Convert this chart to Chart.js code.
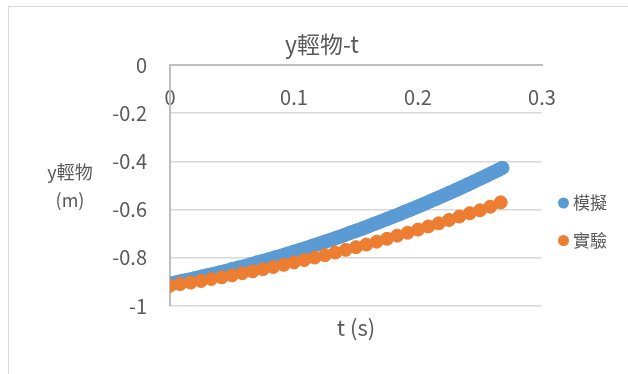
<!DOCTYPE html>
<html>
<head>
<meta charset="utf-8">
<script src="https://cdn.jsdelivr.net/npm/chart.js@4.4.1/dist/chart.umd.min.js"></script>
<style>
  html, body { margin: 0; padding: 0; background: #ffffff; }
  #wrap { position: relative; width: 628px; height: 374px; }
  canvas { display: block; }
</style>
</head>
<body>
<div id="wrap"><canvas id="chart" width="628" height="374"></canvas></div>
<script>
// Vertical position of the light mass over time
const chartTitle = 'y輕物-t';
const xAxisTitle = 't (s)';
const yAxisTitle = ['y輕物', '(m)'];
const seriesNames = ['模擬', '實驗'];

// Simulation (模擬)
const simTime = [0, 0.005, 0.01, 0.015, 0.02, 0.025, 0.03, 0.035, 0.04, 0.045,
  0.05, 0.055, 0.06, 0.065, 0.07, 0.075, 0.08, 0.085, 0.09, 0.095,
  0.1, 0.105, 0.11, 0.115, 0.12, 0.125, 0.13, 0.135, 0.14, 0.145,
  0.15, 0.155, 0.16, 0.165, 0.17, 0.175, 0.18, 0.185, 0.19, 0.195,
  0.2, 0.205, 0.21, 0.215, 0.22, 0.225, 0.23, 0.235, 0.24, 0.245,
  0.25, 0.255, 0.26, 0.265, 0.268];
const simY = [-0.907, -0.902, -0.896, -0.891, -0.885, -0.879, -0.873, -0.867, -0.861, -0.855,
  -0.848, -0.841, -0.835, -0.828, -0.820, -0.813, -0.806, -0.798, -0.791, -0.783,
  -0.775, -0.767, -0.759, -0.750, -0.742, -0.733, -0.725, -0.716, -0.707, -0.697,
  -0.688, -0.679, -0.669, -0.659, -0.649, -0.639, -0.629, -0.619, -0.608, -0.598,
  -0.587, -0.576, -0.565, -0.554, -0.543, -0.531, -0.520, -0.508, -0.496, -0.484,
  -0.472, -0.460, -0.447, -0.435, -0.427];

// Experiment (實驗), one frame every 1/120 s
const expTime = [0, 0.0083, 0.0167, 0.025, 0.0333, 0.0417, 0.05, 0.0583, 0.0667, 0.075,
  0.0833, 0.0917, 0.1, 0.1083, 0.1167, 0.125, 0.1333, 0.1417, 0.15, 0.1583,
  0.1667, 0.175, 0.1833, 0.1917, 0.2, 0.2083, 0.2167, 0.225, 0.2333, 0.2417,
  0.25, 0.2583, 0.2667];
const expY = [-0.916, -0.909, -0.903, -0.896, -0.888, -0.881, -0.873, -0.864, -0.856, -0.847,
  -0.838, -0.829, -0.819, -0.809, -0.799, -0.789, -0.778, -0.767, -0.756, -0.745,
  -0.733, -0.721, -0.708, -0.696, -0.683, -0.670, -0.657, -0.643, -0.629, -0.615,
  -0.603, -0.588, -0.570];

const xTicks = [0, 0.1, 0.2, 0.3];
const yTicks = [0, -0.2, -0.4, -0.6, -0.8, -1];

const BLUE = '#5B9BD5';
const ORANGE = '#ED7D31';
const TEXT = '#595959';
const FONT = '"Noto Sans CJK TC", "Noto Sans", sans-serif';

const toPoints = (xs, ys) => xs.map((x, i) => ({ x: x, y: ys[i] }));
const fmt = v => String(Number(Number(v).toFixed(1)));

// Titles, legend and frame drawn on the canvas
const decorations = {
  id: 'decorations',
  beforeDraw(chart) {
    const ctx = chart.ctx;
    ctx.save();
    ctx.fillStyle = '#ffffff';
    ctx.fillRect(0, 0, chart.width, chart.height);
    ctx.strokeStyle = '#d9d9d9';
    ctx.lineWidth = 1;
    ctx.strokeRect(8.5, 6.5, 700, 500);
    ctx.restore();
  },
  afterDraw(chart) {
    const ctx = chart.ctx;
    const area = chart.chartArea;
    ctx.save();
    ctx.fillStyle = TEXT;
    ctx.textBaseline = 'middle';
    ctx.textAlign = 'center';

    ctx.font = '23px ' + FONT;
    ctx.fillText(chartTitle, 322, 44);

    ctx.font = '22px ' + FONT;
    ctx.fillText(xAxisTitle, (area.left + area.right) / 2, 328);

    ctx.font = '18px ' + FONT;
    ctx.fillText(yAxisTitle[0], 70, 172);
    ctx.fillText(yAxisTitle[1], 70, 200);

    ctx.font = '17px ' + FONT;
    ctx.textAlign = 'left';
    chart.data.datasets.forEach((ds, i) => {
      const cy = 203 + i * 37.5;
      ctx.fillStyle = ds.pointBackgroundColor;
      ctx.beginPath();
      ctx.arc(563.5, cy, 5.5, 0, Math.PI * 2);
      ctx.fill();
      ctx.fillStyle = TEXT;
      ctx.fillText(ds.label, 573, cy);
    });
    ctx.restore();
  }
};

new Chart(document.getElementById('chart'), {
  type: 'scatter',
  data: {
    datasets: [
      {
        label: seriesNames[0],
        data: toPoints(simTime, simY),
        order: 1,
        showLine: true,
        borderColor: BLUE,
        borderWidth: 14,
        borderCapStyle: 'round',
        borderJoinStyle: 'round',
        pointBackgroundColor: BLUE,
        pointBorderColor: BLUE,
        pointBorderWidth: 0,
        pointRadius: 7
      },
      {
        label: seriesNames[1],
        data: toPoints(expTime, expY),
        order: 0,
        showLine: false,
        pointBackgroundColor: ORANGE,
        pointBorderColor: ORANGE,
        pointBorderWidth: 1,
        pointRadius: 6.5
      }
    ]
  },
  options: {
    responsive: false,
    devicePixelRatio: 1,
    animation: false,
    events: [],
    layout: { padding: { left: 16, top: 65, right: 86, bottom: 68 } },
    plugins: {
      legend: { display: false },
      title: { display: false },
      tooltip: { enabled: false }
    },
    scales: {
      x: {
        type: 'linear',
        position: { y: 0 },
        min: 0,
        max: 0.3,
        afterBuildTicks: s => { s.ticks = xTicks.map(v => ({ value: v })); },
        grid: { display: false, drawTicks: false },
        border: { display: true, color: '#bfbfbf', width: 2 },
        ticks: {
          padding: 20,
          maxRotation: 0,
          autoSkip: false,
          color: TEXT,
          font: { family: FONT, size: 20 },
          callback: v => fmt(v)
        }
      },
      y: {
        type: 'linear',
        position: 'left',
        min: -1,
        max: 0,
        afterFit: s => { s.width = 154; },
        afterBuildTicks: s => { s.ticks = yTicks.map(v => ({ value: v })); },
        grid: {
          drawTicks: false,
          lineWidth: 1.5,
          color: ctx => (ctx.tick && ctx.tick.value === 0) ? 'rgba(0,0,0,0)' : '#d9d9d9'
        },
        border: { display: true, color: '#bfbfbf', width: 2 },
        ticks: {
          padding: 23,
          autoSkip: false,
          color: TEXT,
          font: { family: FONT, size: 20 },
          callback: v => fmt(v)
        }
      }
    }
  },
  plugins: [decorations]
});
</script>
</body>
</html>
